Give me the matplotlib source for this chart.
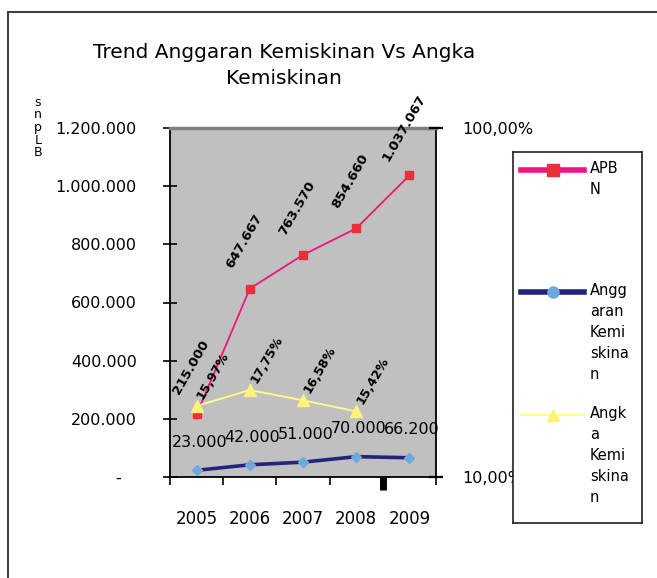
import numpy as np
import matplotlib.pyplot as plt
from matplotlib.lines import Line2D
from matplotlib.patches import Rectangle

plt.rcParams['font.family'] = ['DejaVu Sans']

years = ['2005', '2006', '2007', '2008', '2009']
apbn = [215000, 647667, 763570, 854660, 1037067]
anggaran = [23000, 42000, 51000, 70000, 66200]
angka = [15.97, 17.75, 16.58, 15.42, np.nan]   # persen

y_ticks = [0, 200000, 400000, 600000, 800000, 1000000, 1200000]


def rupiah(v):
    if v == 0:
        return '-   '
    return f'{v:,.0f}'.replace(',', '.')


def persen(v):
    return f'{v:.2f}%'.replace('.', ',')


fig = plt.figure(figsize=(6.57, 5.78), dpi=100)
fig.patch.set_facecolor('white')
fig.patches.append(Rectangle((8 / 657, -0.02), 1.1, 1 - 12 / 578 + 0.02,
                             transform=fig.transFigure, fill=False,
                             edgecolor='#404040', linewidth=1.5))

ax = fig.add_axes([170 / 657, 101 / 578, 266 / 657, 349 / 578])
ax.set_facecolor('#C0C0C0')
x = np.arange(len(years))

ax.plot(x, apbn, color='#F0147D', lw=1.3, marker='s', ms=6,
        mfc='#E8303A', mec='#E8303A', zorder=3)
ax.plot(x, anggaran, color='#23237A', lw=2.6, marker='D', ms=5.5,
        mfc='#6FA8DC', mec='#6FA8DC', zorder=3)

ax.set_xlim(-0.5, len(years) - 0.5)
ax.set_ylim(0, 1200000)
ax.set_yticks(y_ticks)
ax.set_yticklabels([rupiah(v) for v in y_ticks], fontsize=11.5)
ax.tick_params(axis='y', direction='inout', length=10, width=1.2, pad=19)

ax.set_xticks(x)
ax.set_xticklabels(years, fontsize=12)
ax.tick_params(axis='x', which='major', length=0, pad=24)
ax.set_xticks(np.arange(len(years) + 1) - 0.5, minor=True)
ax.tick_params(axis='x', which='minor', direction='out', length=6, width=1.2)
ax.xaxis.get_minor_ticks()[4].tick1line.set_markeredgewidth(5)
ax.xaxis.get_minor_ticks()[4].tick1line.set_markersize(9)

for s in ['left', 'bottom', 'right']:
    ax.spines[s].set_linewidth(1.3)
    ax.spines[s].set_color('black')
ax.spines['top'].set_color('#808080')
ax.spines['top'].set_linewidth(2.5)

# label nilai APBN, miring
for xi, v in zip(x, apbn):
    ax.annotate(rupiah(v), (xi, v), xytext=(-4, 34), textcoords='offset points',
                rotation=60, ha='center', va='center', fontsize=9.5,
                fontweight='bold', annotation_clip=False, zorder=5)

# label nilai anggaran kemiskinan
for xi, v in zip(x, anggaran):
    ax.annotate(rupiah(v), (xi, v), xytext=(2, 20), textcoords='offset points',
                ha='center', va='center', fontsize=11.5, zorder=5)

ax2 = ax.twinx()
ax2.set_yscale('log')
ax2.set_ylim(10, 100)
ax2.plot(x, angka, color='#FFFF80', lw=1.3, marker='^', ms=8,
         mfc='#FFF27A', mec='#FFF27A', zorder=3)
ax2.set_yticks([10, 100])
ax2.set_yticklabels([persen(10), persen(100)], fontsize=11.5)
ax2.yaxis.set_minor_locator(plt.NullLocator())
ax2.tick_params(axis='y', direction='inout', length=10, width=1.6, pad=14)
for s in ax2.spines.values():
    s.set_visible(False)

for xi, v in zip(x, angka):
    if np.isnan(v):
        continue
    ax2.annotate(persen(v), (xi, v), xytext=(12, 22), textcoords='offset points',
                 rotation=60, ha='center', va='center', fontsize=9,
                 fontweight='bold', zorder=5)

fig.text(0.432, 0.926, 'Trend Anggaran Kemiskinan Vs Angka\nKemiskinan',
         ha='center', va='top', fontsize=14.5, linespacing=1.5)

fig.text(38 / 657, 1 - 96 / 578, 's\nn\np\nL\nB', ha='center', va='top',
         fontsize=9, linespacing=0.95)

# legenda
lg = fig.add_axes([513 / 657, 1 - 523 / 578, 129 / 657, 371 / 578])
lg.set_xlim(0, 129)
lg.set_ylim(371, 0)
lg.set_xticks([])
lg.set_yticks([])
lg.set_facecolor('white')
for s in lg.spines.values():
    s.set_linewidth(1.2)
    s.set_color('#202020')

entries = [
    ('APB\nN', '#F0147D', 4, 's', '#E8303A', 18),
    ('Angg\naran\nKemi\nskina\nn', '#23237A', 4, 'o', '#6FA8DC', 140),
    ('Angk\na\nKemi\nskina\nn', '#FFFF80', 1.5, '^', '#FFF27A', 263),
]
for label, c, lw, m, mc, yy in entries:
    lg.add_line(Line2D([8, 71], [yy, yy], color=c, lw=lw))
    lg.add_line(Line2D([40], [yy], marker=m, ms=8, mfc=mc, mec=mc))
    lg.text(77, yy - 9, label, ha='left', va='top', fontsize=10.5,
            linespacing=1.5)

fig.savefig('out.png', dpi=100)
